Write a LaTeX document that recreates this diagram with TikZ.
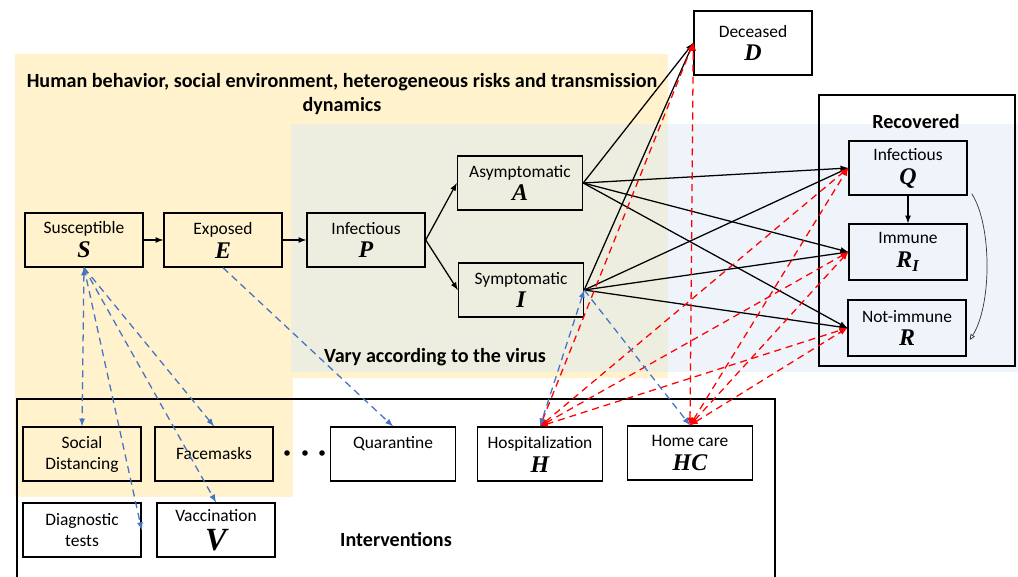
\documentclass[tikz,border=0pt]{standalone}
\usepackage{fontspec}
\setmainfont{Carlito}
\newfontfamily\varfont{Liberation Serif}
\usetikzlibrary{arrows.meta,calc}
\definecolor{behav}{HTML}{FFF2CC}
\definecolor{virusbg}{HTML}{EFF3FA}
\definecolor{overlap}{HTML}{EEEEE0}
\definecolor{intblue}{HTML}{4472C4}
% bold italic compartment letters
\newcommand{\vsym}[2][17]{{\fontsize{#1}{#1}\selectfont\varfont\bfseries\itshape #2}}

\begin{document}
\begin{tikzpicture}[x=0.025cm,y=-0.025cm,
  box/.style={draw,line width=1pt,minimum width=2.95cm,minimum height=1.35cm,
    align=center,inner sep=1pt,font=\fontsize{12.4}{17}\selectfont},
  wbox/.style={box,minimum width=3.125cm},
  heading/.style={font=\fontsize{14.3}{17}\selectfont\bfseries,align=center},
  flow/.style={-latex,line width=0.9pt},
  redflow/.style={latex-latex,red,line width=0.9pt,dash pattern=on 5pt off 3.5pt},
  blueflow/.style={-latex,intblue,line width=0.9pt,dash pattern=on 5pt off 3.5pt}]
\useasboundingbox (0,0) rectangle (1018,577);
% Draw the backgrounds
\fill[behav] (15,54) rectangle (668,378);
\fill[behav] (15,378) rectangle (293,497);
\fill[virusbg] (291,124) rectangle (1018,372);
\fill[overlap] (291,124) rectangle (668,372);
% frames
\draw[line width=1pt] (17,585) -- (17,399) -- (775,399) -- (775,585);
\draw[line width=1pt] (819,95) rectangle (1015,366);
% headings
\node[heading] (behavior) at (342,94) {Human behavior, social environment, heterogeneous risks and transmission\\dynamics};
\node[heading] (varytxt) at (435,357) {Vary according to the virus};
\node[heading] (recov) at (916,122) {Recovered};
\node[heading] (interv) at (396,539) {Interventions};
% compartments
\node[box] (S) at (84,240) {Susceptible\\\vsym{S}};
\node[box] (E) at (223,240) {Exposed\\\vsym{E}};
\node[box] (P) at (366,240) {Infectious\\\vsym{P}};
\node[wbox] (A) at (520,183) {Asymptomatic\\\vsym{A}};
\node[wbox] (I) at (521,290) {Symptomatic\\\vsym{I}};
\node[box,minimum height=1.6cm] (D) at (753,43) {Deceased\\\vsym{D}};
\node[box] (Q) at (908,168) {Infectious\\\vsym{Q}};
\node[box,minimum height=1.4cm] (RI) at (908,252) {Immune\\\vsym{R\textsubscript{I}}};
\node[box,minimum height=1.4cm] (R) at (907,328) {Not-immune\\\vsym{R}};
% interventions
\node[box] (SD) at (82,454) {Social\\[-2pt]Distancing};
\node[box] (FM) at (214,454) {Facemasks};
\node[wbox] (QU) at (393,454) {Quarantine\\\phantom{\vsym{H}}};
\node[wbox] (H) at (540,454) {Hospitalization\\\vsym{H}};
\node[wbox] (HC) at (690,453) {Home care\\\vsym{HC}};
\node[box] (DT) at (82,530) {Diagnostic\\[-2pt]tests};
\node[box] (V) at (216,530) {Vaccination\\[3.5pt]\vsym[23]{V}};
\foreach \x in {287,305,322} { \fill (\x,453) circle (2.8); }
% transmission flows
\draw[flow] (S) -- (E);
\draw[flow] (E) -- (P);
\draw[flow] (P.east) -- (A.west);
\draw[flow] (P.east) -- (I.west);
\foreach \t in {D,Q,RI,R} {
\draw[flow] (A.east) -- (\t.west);
\draw[flow] (I.east) -- (\t.west);
}
\draw[flow] (Q) -- (RI);
% loss of immunity
\draw[line width=0.5pt,gray!40!black,-{Triangle[open,length=4pt,width=3.5pt]}]
  ($(Q.south east)+(4,-2)$) .. controls (992,225) and (992,305) .. ($(R.east)+(3,12)$);
% care outcomes
\foreach \t in {D,Q,RI,R} {
\draw[redflow] (H.north) -- (\t.west);
\draw[redflow] (HC.north) -- (\t.west);
}
% interventions acting on the compartments
\draw[blueflow,latex-latex] (S.south) -- (SD.north);
\draw[blueflow] (S.south) -- (FM.north);
\draw[blueflow] (S.south) -- (DT.east);
\draw[blueflow] (S.south) -- (V.north);
\draw[blueflow] (E.south) -- (QU.north);
\draw[blueflow,latex-latex] (I.east) -- (H.north);
\draw[blueflow] (I.east) -- (HC.north);
\end{tikzpicture}
\end{document}
